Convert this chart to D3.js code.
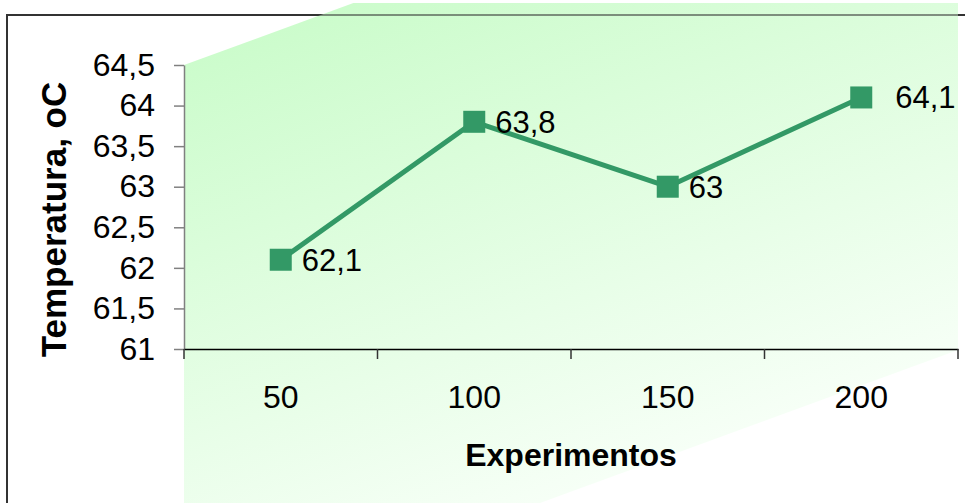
<!DOCTYPE html>
<html>
<head>
<meta charset="utf-8">
<script src="https://cdn.jsdelivr.net/npm/d3@7"></script>
<style>
  html, body { margin: 0; padding: 0; background: #ffffff; }
  svg { display: block; }
  text { font-family: "Liberation Sans", Arial, sans-serif; fill: #000; }
</style>
</head>
<body>
<svg id="chart" width="965" height="503"></svg>
<script>
// Experiment runs and the temperature measured in each
const categories = ["50", "100", "150", "200"];
const temperatures = [62.1, 63.8, 63.0, 64.1];
const yTicks = [61, 61.5, 62, 62.5, 63, 63.5, 64, 64.5];
const xTitle = "Experimentos";
const yTitle = "Temperatura, oC";

const W = 965, H = 503;
const plot = { left: 184, right: 958, top: 65, bottom: 349 };
const green = "#339966";
const comma = v => String(v).replace(".", ",");

const svg = d3.select("#chart");

const x = d3.scaleBand().domain(categories).range([plot.left, plot.right]);
const y = d3.scaleLinear().domain([61, 64.5]).range([plot.bottom, plot.top]);

// outer frame
svg.append("rect")
  .attr("x", 7).attr("y", 15).attr("width", 970).attr("height", 520)
  .attr("fill", "none").attr("stroke", "#333").attr("stroke-width", 2);

// slanted gradient panel behind the plot
const defs = svg.append("defs");
const grad = defs.append("linearGradient")
  .attr("id", "panelFill")
  .attr("gradientUnits", "userSpaceOnUse")
  .attr("x1", 184).attr("y1", 65).attr("x2", 366).attr("y2", 565);
grad.append("stop").attr("offset", 0).attr("stop-color", "#ccfccc");
grad.append("stop").attr("offset", 1).attr("stop-color", "#f6fff6");

defs.append("clipPath").attr("id", "panelClip")
  .append("rect").attr("x", 0).attr("y", 3).attr("width", W).attr("height", H);

const slope = 0.366;
const span = plot.right - plot.left;
const panel = [
  [plot.left, plot.top],
  [plot.right, plot.top - slope * span],
  [plot.right, plot.bottom + 1],
  [plot.left, plot.bottom + 1 + slope * span]
];
svg.append("path")
  .attr("clip-path", "url(#panelClip)")
  .attr("d", d3.line()(panel) + "Z")
  .attr("fill", "url(#panelFill)");

// frame top edge seen through the panel
svg.append("line")
  .attr("x1", plot.left).attr("x2", W).attr("y1", 15).attr("y2", 15)
  .attr("stroke", "#333").attr("stroke-width", 2).attr("stroke-opacity", 0.55);

// y axis
const yAxis = d3.axisLeft(y)
  .tickValues(yTicks)
  .tickFormat(comma)
  .tickSize(10)
  .tickSizeOuter(0)
  .tickPadding(19);
const gy = svg.append("g")
  .attr("transform", `translate(${plot.left},0)`)
  .call(yAxis);
gy.select(".domain").attr("stroke", "#808080").attr("stroke-width", 1.5);
gy.selectAll(".tick line").attr("stroke", "#808080").attr("stroke-width", 1.5);
gy.selectAll(".tick text")
  .style("font-size", "32px")
  .style("font-family", "Liberation Sans, Arial, sans-serif")
  .attr("fill", "#000");

// x axis: labels centred in bands, ticks on band boundaries
const xAxis = d3.axisBottom(x).tickSize(0).tickSizeOuter(0).tickPadding(36);
const gx = svg.append("g")
  .attr("transform", `translate(0,${plot.bottom})`)
  .call(xAxis);
gx.select(".domain").attr("stroke", "#000").attr("stroke-width", 1.5);
gx.selectAll(".tick text")
  .style("font-size", "32px")
  .style("font-family", "Liberation Sans, Arial, sans-serif")
  .attr("fill", "#000");

const bounds = categories.map(c => x(c)).concat([x(categories[categories.length - 1]) + x.bandwidth()]);
gx.selectAll(".bound")
  .data(bounds)
  .join("line")
  .attr("class", "bound")
  .attr("x1", d => d).attr("x2", d => d)
  .attr("y1", 0).attr("y2", 10)
  .attr("stroke", "#333").attr("stroke-width", 1.5);

// axis titles
svg.append("text")
  .attr("x", (plot.left + plot.right) / 2)
  .attr("y", 466)
  .attr("text-anchor", "middle")
  .style("font-size", "32px")
  .style("font-weight", "bold")
  .text(xTitle);

svg.append("text")
  .attr("transform", `translate(66,${(77 + 362) / 2}) rotate(-90)`)
  .attr("text-anchor", "middle")
  .style("font-size", "35px")
  .style("font-weight", "bold")
  .text(yTitle);

// series
const pts = categories.map((c, i) => ({ c, v: temperatures[i], i }));
const cx = d => x(d.c) + x.bandwidth() / 2;

svg.append("path")
  .datum(pts)
  .attr("fill", "none")
  .attr("stroke", green)
  .attr("stroke-width", 5)
  .attr("stroke-linejoin", "round")
  .attr("d", d3.line().x(cx).y(d => y(d.v)));

const m = 22;
svg.selectAll(".marker")
  .data(pts)
  .join("rect")
  .attr("class", "marker")
  .attr("x", d => cx(d) - m / 2)
  .attr("y", d => y(d.v) - m / 2)
  .attr("width", m).attr("height", m)
  .attr("fill", green);

// value labels beside each marker
svg.selectAll(".val")
  .data(pts)
  .join("text")
  .attr("class", "val")
  .attr("x", d => cx(d) + (d.i === pts.length - 1 ? 34 : 21))
  .attr("y", d => y(d.v) + 11)
  .style("font-size", "31px")
  .text(d => comma(d.v));
</script>
</body>
</html>
